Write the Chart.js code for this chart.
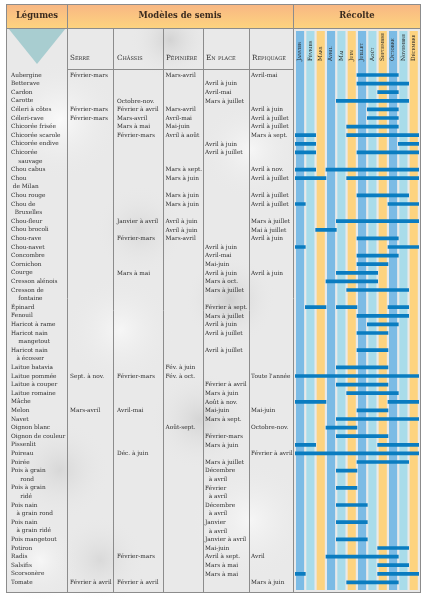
<!DOCTYPE html>
<html><head><meta charset="utf-8">
<script src="https://cdn.jsdelivr.net/npm/chart.js@4/dist/chart.umd.min.js"></script>
<style>html,body{margin:0;padding:0;background:#fff;}canvas{display:block;}</style>
</head><body>
<canvas id="c" width="427" height="600" style="width:427px;height:600px"></canvas>
<script>
const NB = '\u00a0';
const rowLabels = [
 'Aubergine','Betterave','Cardon','Carotte','Céleri à côtes','Céleri-rave','Chicorée frisée','Chicorée scarole','Chicorée endive','Chicorée',
 NB.repeat(4)+'sauvage','Chou cabus','Chou',NB+'de Milan','Chou rouge','Chou de',NB.repeat(2)+'Bruxelles','Chou-fleur','Chou brocoli','Chou-rave',
 'Chou-navet','Concombre','Cornichon','Courge','Cresson alénois','Cresson de',NB.repeat(4)+'fontaine','Épinard','Fenouil','Haricot à rame',
 'Haricot nain',NB.repeat(4)+'mangetout','Haricot nain',NB.repeat(3)+'à écosser','Laitue batavia','Laitue pommée','Laitue à couper','Laitue romaine','Mâche','Melon',
 'Navet','Oignon blanc','Oignon de couleur','Pissenlit','Poireau','Poirée','Pois à grain',NB.repeat(5)+'rond','Pois à grain',NB.repeat(5)+'ridé',
 'Pois nain',NB.repeat(3)+'à grain rond','Pois nain',NB.repeat(3)+'à grain ridé','Pois mangetout','Potiron','Radis','Salsifis','Scorsonère','Tomate'
];
const months = ['Janvier','Février','Mars','Avril','Mai','Juin','Juillet','Août','Septembre','Octobre','Novembre','Décembre'];
const headers = ['Légumes','Modèles de semis','Récolte'];
const semisHeaders = ['Serre','Châssis','Pépinière','En place','Repiquage'];

const serre = [
 'Février-mars','','','','Février-mars','Février-mars','','','','',
 '','','','','','','','','','',
 '','','','','','','','','','',
 '','','','','','Sept. à nov.','','','','Mars-avril',
 '','','','','','','','','','',
 '','','','','','','','','','Février à avril'];
const chassis = [
 '','','','Octobre-nov.','Février à avril','Mars-avril','Mars à mai','Février-mars','','',
 '','','','','','','','Janvier à avril','','Février-mars',
 '','','','Mars à mai','','','','','','',
 '','','','','','Février-mars','','','','Avril-mai',
 '','','','','Déc. à juin','','','','','',
 '','','','','','','Février-mars','','','Février à avril'];
const pepiniere = [
 'Mars-avril','','','','Mars-avril','Avril-mai','Mai-juin','Avril à août','','',
 '','Mars à sept.','Mars à juin','','Mars à juin','Mars à juin','','Avril à juin','Avril à juin','Mars-avril',
 '','','','','','','','','','',
 '','','','','Fév. à juin','Fév. à oct.','','','','',
 '','Août-sept.','','','','','','','','',
 '','','','','','','','','',''];
const enPlace = [
 '','Avril à juin','Avril-mai','Mars à juillet','','','','','Avril à juin','Avril à juillet',
 '','','','','','','','','','',
 'Avril à juin','Avril-mai','Mai-juin','Avril à juin','Mars à oct.','Mars à juillet','','Février à sept.','Mars à juillet','Avril à juin',
 'Avril à juillet','','Avril à juillet','','','','Février à avril','Mars à juin','Août à nov.','Mai-juin',
 'Mars à sept.','','Février-mars','Mars à juin','','Mars à juillet','Décembre',NB.repeat(2)+'à avril','Février',NB.repeat(2)+'à avril',
 'Décembre',NB.repeat(2)+'à avril','Janvier',NB.repeat(2)+'à avril','Janvier à avril','Mai-juin','Avril à sept.','Mars à mai','Mars à mai',''];
const repiquage = [
 'Avril-mai','','','','Avril à juin','Avril à juillet','Avril à juillet','Mars à sept.','','',
 '','Avril à nov.','Avril à juillet','','Avril à juillet','Avril à juillet','','Mars à juillet','Mai à juillet','Avril à juin',
 '','','','Avril à juin','','','','','','',
 '','','','','',"Toute l'année",'','','','Mai-juin',
 '','Octobre-nov.','','','Février à avril','','','','','',
 '','','','','','','Avril','','','Mars à juin'];
const semisColumns = [serre, chassis, pepiniere, enPlace, repiquage];

// Harvest periods: [first month, last month] (1 = janvier)
const harvestA = [
 [7,10],[7,11],[9,10],[5,11],[8,10],[8,10],[6,10],[1,2],[1,2],[1,2],
 null,[1,2],[1,3],null,[7,11],[1,1],null,[5,12],[3,4],[7,10],
 [1,1],[7,10],[7,9],[5,8],[4,8],[6,11],null,[2,3],[7,11],[8,10],
 [7,9],null,[7,9],null,[5,9],[1,12],[5,9],[6,10],[1,3],[7,9],
 [5,12],[4,6],[5,9],[1,2],[1,12],[7,11],[5,6],null,[5,6],null,
 [5,7],null,[5,7],null,[5,7],[9,11],[4,10],[9,11],[1,1],[6,10]];
const harvestB = [
 null,null,null,null,null,null,null,[6,12],[11,12],[7,12],
 null,[4,12],[6,12],null,null,[10,12],null,null,null,null,
 [10,12],null,null,null,null,null,null,[5,6],null,null,
 null,null,null,null,null,null,null,null,[10,12],null,
 null,null,null,[9,12],null,null,null,null,null,null,
 null,null,null,null,null,null,null,null,[9,12],null];
const harvestC = [
 null,null,null,null,null,null,null,null,null,null,
 null,null,null,null,null,null,null,null,null,null,
 null,null,null,null,null,null,null,[10,11],null,null,
 null,null,null,null,null,null,null,null,null,null,
 null,null,null,null,null,null,null,null,null,null,
 null,null,null,null,null,null,null,null,null,null];

const toBar = p => p ? [p[0]-1, p[1]] : null;
const stripeColors = ['#7cbbe5','#a9dcea','#fdd37f'];
const FONT = "'DejaVu Serif'";

const tablePlugin = {
  id: 'table',
  beforeDraw(chart) {
    const ctx = chart.ctx, xs = chart.scales.x, ys = chart.scales.y;
    const W = chart.width;
    const L = 6, T = 4, R = 421, B = 593, HB = 28, SB = 69;
    const cols = [67, 113, 163, 203, 249, xs.left - 2];
    ctx.save();
    ctx.fillStyle = '#fff'; ctx.fillRect(0, 0, W, chart.height);
    ctx.fillStyle = '#e9e9e9'; ctx.fillRect(L, T, R - L, B - T);
    // soft marbled patches
    const blobs = [[60,120,60,'rgba(255,255,255,0.75)'],[230,300,45,'rgba(160,160,160,0.35)'],[120,330,55,'rgba(255,255,255,0.6)'],
      [200,420,50,'rgba(165,165,165,0.3)'],[60,470,50,'rgba(175,175,175,0.3)'],[250,520,60,'rgba(255,255,255,0.6)'],
      [170,40,40,'rgba(170,170,170,0.35)'],[250,150,50,'rgba(255,255,255,0.6)'],[40,560,40,'rgba(255,255,255,0.6)'],
      [140,230,45,'rgba(170,170,170,0.25)'],[100,560,45,'rgba(170,170,170,0.25)']];
    for (const [bx, by, br, c] of blobs) {
      const g = ctx.createRadialGradient(bx, by, 0, bx, by, br);
      g.addColorStop(0, c); g.addColorStop(1, 'rgba(233,233,233,0)');
      ctx.fillStyle = g; ctx.fillRect(bx - br, by - br, 2 * br, 2 * br);
    }
    // header band
    const hg = ctx.createLinearGradient(0, T, 0, HB);
    hg.addColorStop(0, '#f8b683'); hg.addColorStop(1, '#fdd37f');
    ctx.fillStyle = hg; ctx.fillRect(L, T, R - L, HB - T);
    // triangle
    ctx.fillStyle = '#a8cdd0';
    ctx.beginPath(); ctx.moveTo(8, HB); ctx.lineTo(66, HB); ctx.lineTo(37, 64); ctx.closePath(); ctx.fill();
    // month stripes via x scale
    for (let i = 0; i < 12; i++) {
      const x0 = xs.getPixelForValue(i), x1 = xs.getPixelForValue(i + 1);
      ctx.fillStyle = stripeColors[i % 3];
      ctx.fillRect(x0 + 1, 31, x1 - x0 - 2.2, B - 3 - 31);
    }
    // lines
    ctx.strokeStyle = '#8c8c8c'; ctx.lineWidth = 1;
    ctx.strokeRect(L + 0.5, T + 0.5, R - L - 1, B - T - 1);
    ctx.beginPath();
    ctx.moveTo(L, HB + 0.5); ctx.lineTo(R, HB + 0.5);
    ctx.moveTo(cols[0], SB + 0.5); ctx.lineTo(cols[5], SB + 0.5);
    cols.forEach((cx, k) => {
      ctx.moveTo(cx + 0.5, (k === 0 || k === 5) ? T : HB);
      ctx.lineTo(cx + 0.5, B);
    });
    ctx.stroke();
    // header text
    ctx.fillStyle = '#3a2a1e'; ctx.textBaseline = 'middle'; ctx.textAlign = 'center';
    ctx.font = 'bold 8.4px ' + FONT;
    ctx.fillText(headers[0], (L + cols[0]) / 2 + 0.5, 16);
    ctx.fillText(headers[1], (cols[0] + cols[5]) / 2, 16);
    ctx.fillText(headers[2], (cols[5] + R) / 2, 16);
    // sub headers
    ctx.textAlign = 'left'; ctx.fillStyle = '#2e2e2e';
    ctx.font = 'small-caps 7.2px ' + FONT;
    const sx = [70, 117, 166, 206, 252];
    semisHeaders.forEach((h, k) => ctx.fillText(h, sx[k], 58.5));
    // month labels, rotated
    ctx.font = 'small-caps 5.8px ' + FONT;
    ctx.fillStyle = '#222';
    for (let i = 0; i < 12; i++) {
      const cx = (xs.getPixelForValue(i) + xs.getPixelForValue(i + 1)) / 2 - 0.6;
      ctx.save(); ctx.translate(cx, 61); ctx.rotate(-Math.PI / 2);
      ctx.fillText(months[i], 0, 0.3); ctx.restore();
    }
    // semis cells via y scale
    ctx.font = '5.8px ' + FONT; ctx.fillStyle = '#2e2e2e';
    const tx = [70, 117, 165.5, 205, 251];
    semisColumns.forEach((col, k) => {
      col.forEach((t, r) => { if (t) ctx.fillText(t, tx[k], ys.getPixelForValue(r) + 0.3); });
    });
    ctx.restore();
  }
};

const barDs = (arr) => ({
  data: arr.map(toBar), backgroundColor: '#0a7cc0', borderWidth: 0,
  barThickness: 3, grouped: false, borderSkipped: false
});

new Chart(document.getElementById('c'), {
  type: 'bar',
  data: { labels: rowLabels, datasets: [barDs(harvestA), barDs(harvestB), barDs(harvestC)] },
  options: {
    responsive: false, animation: false, indexAxis: 'y',
    layout: { padding: { left: 11, right: 8, top: 70.7, bottom: 13.3 } },
    plugins: { legend: { display: false }, tooltip: { enabled: false } },
    scales: {
      x: { type: 'linear', min: 0, max: 12, display: false },
      y: {
        type: 'category', offset: true,
        grid: { display: false, drawTicks: false }, border: { display: false },
        ticks: { crossAlign: 'far', autoSkip: false, padding: 0, color: '#2e2e2e', font: { family: FONT, size: 5.8 } },
        afterFit(s) { s.width = 284; }
      }
    }
  },
  plugins: [tablePlugin]
});
</script>
</body></html>
